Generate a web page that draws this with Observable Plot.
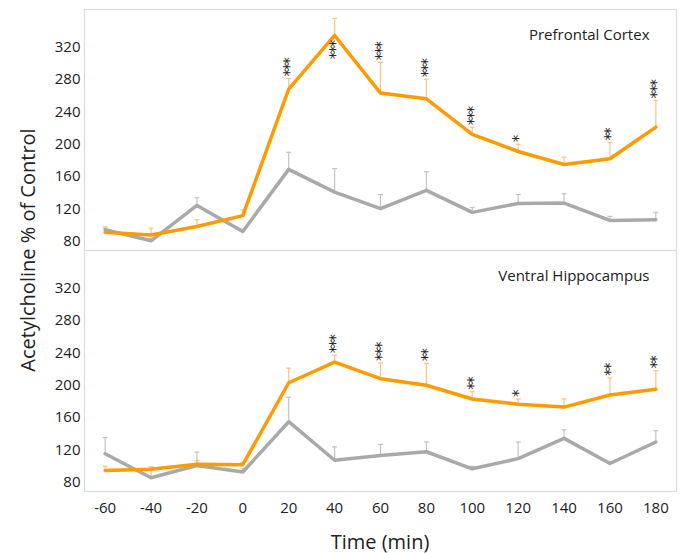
<!DOCTYPE html>
<html>
<head>
<meta charset="utf-8">
<script src="https://cdn.jsdelivr.net/npm/d3@7"></script>
<script src="https://cdn.jsdelivr.net/npm/@observablehq/plot@0.6"></script>
<style>
  html, body { margin: 0; padding: 0; background: #fff; }
  #wrap { position: relative; width: 685px; height: 553px; font-family: "Open Sans", sans-serif; }
  #ytitle { position: absolute; left: 27px; top: 250px; transform: translate(-50%, -50%) rotate(-90deg); white-space: nowrap; font-size: 20px; color: #222; }
  #xtitle { position: absolute; left: 380px; top: 541px; transform: translate(-50%, -50%); white-space: nowrap; font-size: 20px; color: #222; }
  .stars text { letter-spacing: -1.6px; }
</style>
</head>
<body>
<div id="wrap">
  <div id="chart"></div>
  <div id="ytitle">Acetylcholine % of Control</div>
  <div id="xtitle">Time (min)</div>
</div>
<script>
// ---- data ----
const regions = ["Prefrontal Cortex", "Ventral Hippocampus"];
const times = [-60, -40, -20, 0, 20, 40, 60, 80, 100, 120, 140, 160, 180];
const yTicks = [80, 120, 160, 200, 240, 280, 320];

// Prefrontal Cortex
const pfcDrug      = [91.5, 88, 98.5, 112, 268, 334, 263, 256, 212, 191, 175, 182, 221];
const pfcDrugUpper = [96.5, 96.5, 107, 119, 281, 355, 301, 280, 221, 200, 184, 202, 254];
const pfcCtrl      = [94.5, 81, 124.5, 92.5, 169, 141, 120.5, 143, 116, 127, 127.5, 106, 107];
const pfcCtrlUpper = [98, 84, 134, 95, 190, 170, 138, 166, 122, 138, 139, 111, 116];
const pfcStars     = ["", "", "", "", "***", "***", "***", "***", "***", "*", "", "**", "***"];
const pfcStarPos   = ["", "", "", "", "above", "below", "above", "above", "above", "above", "", "above", "above"];

// Ventral Hippocampus
const vhDrug       = [95, 96.5, 102.5, 102, 203, 228.5, 208, 200, 183, 176.5, 173, 188, 195];
const vhDrugUpper  = [100, 99, 107, 105, 221, 237, 227.5, 227, 192, 183, 183, 209, 218];
const vhCtrl       = [115.5, 86, 101, 93, 155, 107.5, 113.5, 118, 97, 109.5, 134.5, 103.5, 130];
const vhCtrlUpper  = [135.5, 99, 117.5, 97, 185, 124, 127, 130, 100, 130, 145, 106, 144];
const vhStars      = ["", "", "", "", "", "***", "***", "**", "**", "*", "", "**", "**"];
const vhStarPos    = ["", "", "", "", "", "above", "above", "above", "above", "above", "", "above", "above"];

// ---- build table ----
function rows(region, drug, drugUp, ctrl, ctrlUp, stars, pos) {
  return times.map((t, i) => ({region, t, drug: drug[i], drugUp: drugUp[i], ctrl: ctrl[i], ctrlUp: ctrlUp[i], stars: stars[i], pos: pos[i]}));
}
const data = [
  ...rows(regions[0], pfcDrug, pfcDrugUpper, pfcCtrl, pfcCtrlUpper, pfcStars, pfcStarPos),
  ...rows(regions[1], vhDrug, vhDrugUpper, vhCtrl, vhCtrlUpper, vhStars, vhStarPos)
];
const titles = regions.map(region => ({region}));

const orange = "#ff9a00", orangeLight = "#ffc47a";
const gray = "#a9a9a9", grayLight = "#c4c4c4";

const cap = {draw(ctx, size) { const r = Math.sqrt(size / Math.PI); ctx.moveTo(-r, 0); ctx.lineTo(r, 0); }};

const starsAbove = data.filter(d => d.stars && d.pos === "above");
const starsBelow = data.filter(d => d.stars && d.pos === "below");

const starStyle = {fontSize: 15, fontFamily: "DejaVu Sans", fill: "#2a2a2a", rotate: -90, lineAnchor: "middle", className: "stars"};

const chart = Plot.plot({
  width: 685,
  height: 553,
  marginLeft: 84,
  marginRight: 9,
  marginTop: 9,
  marginBottom: 62,
  style: {fontFamily: "Open Sans, sans-serif", color: "#222", background: "#fff"},
  x: {domain: [-69, 189]},
  y: {domain: [69, 366]},
  fy: {domain: regions, padding: 0, axis: null, label: null},
  marks: [
    Plot.frame({stroke: "#dcdcdc", strokeWidth: 1.2}),
    // error bars (upper)
    Plot.ruleX(data, {x: "t", y1: "ctrl", y2: "ctrlUp", fy: "region", stroke: grayLight, strokeWidth: 1.2}),
    Plot.dot(data, {x: "t", y: "ctrlUp", fy: "region", symbol: cap, r: 2.5, stroke: grayLight, strokeWidth: 1.2, fill: "none"}),
    Plot.ruleX(data, {x: "t", y1: "drug", y2: "drugUp", fy: "region", stroke: orangeLight, strokeWidth: 1.2}),
    Plot.dot(data, {x: "t", y: "drugUp", fy: "region", symbol: cap, r: 2.5, stroke: orangeLight, strokeWidth: 1.2, fill: "none"}),
    // lines
    Plot.line(data, {x: "t", y: "ctrl", fy: "region", stroke: gray, strokeWidth: 3.5}),
    Plot.line(data, {x: "t", y: "drug", fy: "region", stroke: orange, strokeWidth: 3.5}),
    // significance asterisks
    Plot.text(starsAbove, {x: "t", y: "drugUp", fy: "region", text: "stars", textAnchor: "start", dy: -2, dx: 1.5, ...starStyle}),
    Plot.text(starsBelow, {x: "t", y: "drug", fy: "region", text: "stars", textAnchor: "end", dy: 6, dx: 1.5, ...starStyle}),
    // panel titles
    Plot.text(titles, {fy: "region", text: "region", frameAnchor: "top-right", textAnchor: "end", lineAnchor: "middle", dx: -27, dy: 26, fontSize: 15, fill: "#222"}),
    // axes
    Plot.axisY({ticks: yTicks, tickSize: 0, tickPadding: 4, label: null, fontSize: 15, tickFormat: d => String(d)}),
    Plot.axisX({ticks: times, tickSize: 0, tickPadding: 11, label: null, fontSize: 15, tickFormat: d => String(d)})
  ]
});
// make sure the letter-spacing applies even if className is not supported
d3.select(chart).selectAll("text").filter(function() { return /^\*+$/.test(this.textContent); })
  .style("letter-spacing", "-1.6px");
document.getElementById("chart").appendChild(chart);
</script>
</body>
</html>
